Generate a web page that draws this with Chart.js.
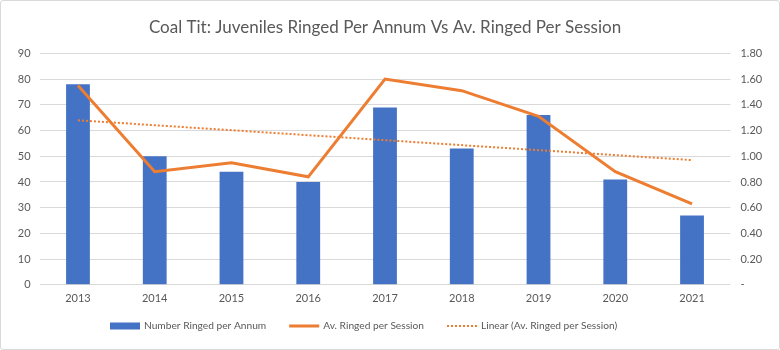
<!DOCTYPE html>
<html>
<head>
<meta charset="utf-8">
<script src="https://cdn.jsdelivr.net/npm/chart.js@4/dist/chart.umd.min.js"></script>
<style>
  html, body { margin: 0; padding: 0; background: #fff; }
  #wrap { width: 778px; height: 348px; border: 1px solid #d9d9d9; border-radius: 3px; }
</style>
</head>
<body>
<div id="wrap"><canvas id="chart" width="778" height="348"></canvas></div>
<script>
// --- Data ---
const years = ['2013', '2014', '2015', '2016', '2017', '2018', '2019', '2020', '2021'];
const ringedPerAnnum = [78, 50, 44, 40, 69, 53, 66, 41, 27];
const avPerSession = [1.55, 0.88, 0.95, 0.84, 1.60, 1.51, 1.31, 0.88, 0.63];
// trendline end values (first and last year)
const trendStart = 1.28;
const trendEnd = 0.97;

const trendData = years.map((_, i) => {
    if (i === 0) return trendStart;
    if (i === years.length - 1) return trendEnd;
    return null;
});

const textColor = '#595959';
const fontFamily = "'Lato', 'Liberation Sans', sans-serif";

// Excel-style legend drawn under the axis
const bottomLegend = {
    id: 'bottomLegend',
    afterDraw(chart) {
        const ctx = chart.ctx;
        const sets = chart.data.datasets;
        const swatch = 30, textGap = 4, itemGap = 23;
        ctx.save();
        ctx.font = `10.2px ${fontFamily}`;
        ctx.textBaseline = 'middle';
        ctx.fillStyle = textColor;
        let x = 109;
        const y = chart.height - 23;
        sets.forEach(ds => {
            if (ds.type === 'line') {
                ctx.strokeStyle = ds.borderColor;
                ctx.lineWidth = ds.borderWidth;
                ctx.setLineDash(ds.borderDash || []);
                ctx.beginPath();
                ctx.moveTo(x, y);
                ctx.lineTo(x + swatch, y);
                ctx.stroke();
                ctx.setLineDash([]);
            } else {
                ctx.fillStyle = ds.backgroundColor;
                ctx.fillRect(x, y - 3.5, swatch, 7);
            }
            x += swatch + textGap;
            ctx.fillStyle = textColor;
            ctx.fillText(ds.label, x, y);
            x += ctx.measureText(ds.label).width + itemGap;
        });
        ctx.restore();
    }
};

new Chart(document.getElementById('chart'), {
    type: 'bar',
    data: {
        labels: years,
        datasets: [
            {
                label: 'Number Ringed per Annum',
                data: ringedPerAnnum,
                backgroundColor: '#4472C4',
                yAxisID: 'y',
                barPercentage: 0.62,
                categoryPercentage: 0.5,
                order: 3
            },
            {
                type: 'line',
                label: 'Av. Ringed per Session',
                data: avPerSession,
                borderColor: '#ED7D31',
                backgroundColor: '#ED7D31',
                borderWidth: 3,
                pointRadius: 0,
                tension: 0,
                yAxisID: 'y1',
                order: 1
            },
            {
                type: 'line',
                label: 'Linear (Av. Ringed per Session)',
                data: trendData,
                spanGaps: true,
                borderColor: '#ED7D31',
                backgroundColor: '#ED7D31',
                borderWidth: 2,
                borderDash: [2, 2],
                pointRadius: 0,
                yAxisID: 'y1',
                order: 2
            }
        ]
    },
    options: {
        responsive: false,
        animation: false,
        layout: { padding: { left: 4, right: 14, top: 8, bottom: 37 } },
        plugins: {
            title: {
                display: true,
                text: 'Coal Tit: Juveniles Ringed Per Annum Vs Av. Ringed Per Session',
                color: textColor,
                font: { size: 17, family: fontFamily, weight: 'normal' },
                padding: { top: 8, bottom: 16 }
            },
            legend: { display: false },
            tooltip: { enabled: false }
        },
        scales: {
            x: {
                grid: { display: false, drawTicks: false },
                border: { display: false },
                ticks: { color: textColor, font: { size: 11, family: fontFamily }, padding: 7 }
            },
            y: {
                position: 'left',
                min: 0,
                max: 90,
                ticks: { stepSize: 10, color: textColor, font: { size: 11, family: fontFamily }, padding: 9 },
                grid: { color: '#d9d9d9', drawTicks: false },
                border: { display: false },
                afterFit: (s) => { s.width = 34.6; }
            },
            y1: {
                position: 'right',
                min: 0,
                max: 1.8,
                ticks: {
                    stepSize: 0.2,
                    color: textColor,
                    font: { size: 11, family: fontFamily },
                    padding: 10,
                    callback: (v) => v === 0 ? '-' : v.toFixed(2)
                },
                grid: { display: false, drawTicks: false },
                border: { display: false },
                afterFit: (s) => { s.width = 34.6; }
            }
        }
    },
    plugins: [bottomLegend]
});
</script>
</body>
</html>
